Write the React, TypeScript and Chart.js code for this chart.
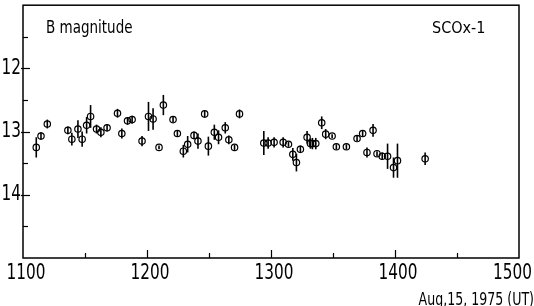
import React, { useEffect, useRef } from "react";
import { Chart, registerables } from "chart.js";

Chart.register(...registerables);

// Observation times (UT, hhmm on Aug 15 1975) and B magnitudes with errors
const times = [
  1110.7, 1114.5, 1119.6, 1136.2, 1139.4, 1144.3, 1147.7, 1151.3, 1154.5, 1159.3,
  1162.8, 1167.8, 1176.2, 1179.7, 1184.3, 1188.0, 1196.0, 1201.2, 1204.9, 1209.7,
  1213.2, 1221.0, 1224.5, 1229.3, 1232.8, 1237.9, 1241.1, 1246.5, 1249.5, 1254.3,
  1257.7, 1263.1, 1266.0, 1270.6, 1274.6, 1294.2, 1297.7, 1302.5, 1309.8, 1314.1,
  1317.6, 1320.5, 1323.7, 1329.1, 1331.8, 1333.4, 1336.1, 1340.9, 1344.1, 1349.3,
  1352.7, 1360.8, 1369.4, 1373.9, 1377.4, 1382.3, 1385.5, 1389.7, 1394.0, 1398.8,
  1402.0, 1424.3,
];
const mags = [
  13.25, 13.07, 12.88, 12.98, 13.12, 12.96, 13.12, 12.9, 12.76, 12.96,
  13.01, 12.94, 12.71, 13.03, 12.83, 12.81, 13.15, 12.76, 12.8, 13.25,
  12.58, 12.81, 13.03, 13.31, 13.2, 13.06, 13.15, 12.72, 13.23, 13.01,
  13.09, 12.94, 13.13, 13.25, 12.72, 13.18, 13.18, 13.17, 13.17, 13.2,
  13.36, 13.49, 13.28, 13.09, 13.19, 13.19, 13.19, 12.86, 13.04, 13.07,
  13.24, 13.24, 13.11, 13.03, 13.33, 12.98, 13.35, 13.39, 13.39, 13.57,
  13.46, 13.43,
];
const errs = [
  0.16, 0.06, 0.07, 0.06, 0.1, 0.14, 0.12, 0.13, 0.18, 0.07,
  0.08, 0.06, 0.07, 0.08, 0.06, 0.06, 0.08, 0.23, 0.17, 0.03,
  0.16, 0.04, 0.04, 0.1, 0.13, 0.06, 0.12, 0.06, 0.15, 0.12,
  0.11, 0.09, 0.07, 0.04, 0.07, 0.19, 0.09, 0.08, 0.08, 0.04,
  0.1, 0.14, 0.06, 0.1, 0.08, 0.09, 0.09, 0.1, 0.08, 0.03,
  0.04, 0.04, 0.04, 0.04, 0.08, 0.1, 0.04, 0.06, 0.2, 0.16,
  0.27, 0.1,
];

const xMin = 1100;
const xMax = 1500;
const yMin = 11;
const yMax = 15;
const xLabelValues = [1100, 1200, 1300, 1400, 1500];
const yLabelValues = [12, 13, 14];

const yTitle = "B magnitude";
const sourceName = "SCOx-1";
const xTitle = "Aug,15, 1975 (UT)";

const FONT = "'Liberation Sans Narrow', 'DejaVu Sans Condensed', 'Liberation Sans', sans-serif";

function tallText(
  ctx: CanvasRenderingContext2D,
  text: string,
  x: number,
  y: number,
  size: number,
  stretch: number,
  align: CanvasTextAlign,
  baseline: CanvasTextBaseline
) {
  ctx.save();
  ctx.translate(x, y);
  ctx.scale(1, stretch);
  ctx.font = `${size}px ${FONT}`;
  ctx.textAlign = align;
  ctx.textBaseline = baseline;
  ctx.fillText(text, 0, 0);
  ctx.restore();
}

export default function App() {
  const ref = useRef<HTMLCanvasElement>(null);

  useEffect(() => {
    document.body.style.margin = "0";
    const canvas = ref.current;
    if (!canvas) return;

    const deco = {
      id: "deco",
      beforeDatasetsDraw(chart: any) {
        const { ctx, scales } = chart;
        const x = scales.x;
        const y = scales.y;
        ctx.save();
        ctx.strokeStyle = "#000";
        ctx.lineWidth = 1.6;
        times.forEach((t, i) => {
          const px = x.getPixelForValue(t);
          ctx.beginPath();
          ctx.moveTo(px, y.getPixelForValue(mags[i] - errs[i]));
          ctx.lineTo(px, y.getPixelForValue(mags[i] + errs[i]));
          ctx.stroke();
        });
        ctx.restore();
      },
      afterDraw(chart: any) {
        const { ctx, chartArea: a, scales } = chart;
        const x = scales.x;
        const y = scales.y;
        ctx.save();
        ctx.strokeStyle = "#000";
        ctx.lineWidth = 1.5;
        ctx.strokeRect(a.left, a.top, a.right - a.left, a.bottom - a.top);
        ctx.lineWidth = 1.2;
        for (let v = yMin + 0.5; v < yMax; v += 0.5) {
          const py = Math.round(y.getPixelForValue(v)) + 0.5;
          const major = Math.abs(v - Math.round(v)) < 1e-6;
          ctx.beginPath();
          ctx.moveTo(a.left - (major ? 2 : 0), py);
          ctx.lineTo(a.left + (major ? 7 : 5), py);
          ctx.stroke();
        }
        for (let v = xMin + 50; v < xMax; v += 50) {
          const px = Math.round(x.getPixelForValue(v)) + 0.5;
          const major = v % 100 === 0;
          ctx.beginPath();
          ctx.moveTo(px, a.bottom);
          ctx.lineTo(px, a.bottom - (major ? 8 : 5));
          ctx.stroke();
        }
        ctx.fillStyle = "#000";
        yLabelValues.forEach((v) => {
          tallText(ctx, String(v), a.left - 2, y.getPixelForValue(v), 17, 1.25, "right", "middle");
        });
        xLabelValues.forEach((v) => {
          const px = x.getPixelForValue(v);
          if (v === xMax) {
            tallText(ctx, String(v), 532, a.bottom + 5, 17, 1.25, "right", "top");
          } else {
            tallText(ctx, String(v), px + 3, a.bottom + 5, 17, 1.25, "center", "top");
          }
        });
        tallText(ctx, yTitle, 46, 33, 15, 1.2, "left", "alphabetic");
        tallText(ctx, sourceName, 432, 33, 16, 1.0, "left", "alphabetic");
        tallText(ctx, xTitle, 534, 305, 14, 1.2, "right", "alphabetic");
        ctx.restore();
      },
    };

    const chart = new Chart(canvas, {
      type: "scatter",
      data: {
        datasets: [
          {
            data: times.map((t, i) => ({ x: t, y: mags[i] })),
            pointStyle: "circle",
            pointRadius: 3.2,
            pointBorderWidth: 1.2,
            pointBorderColor: "#000",
            pointBackgroundColor: "rgba(0,0,0,0)",
            showLine: false,
          },
        ],
      },
      options: {
        responsive: false,
        devicePixelRatio: 1,
        animation: false,
        layout: { padding: { top: 5, right: 15, left: 0, bottom: 0 } },
        plugins: { legend: { display: false }, tooltip: { enabled: false } },
        scales: {
          x: {
            type: "linear",
            min: xMin,
            max: xMax,
            grid: { display: false, drawTicks: false },
            border: { display: false },
            ticks: { display: false, stepSize: 100 },
            afterFit: (s: any) => {
              s.height = 48;
            },
          },
          y: {
            type: "linear",
            reverse: true,
            min: yMin,
            max: yMax,
            grid: { display: false, drawTicks: false },
            border: { display: false },
            ticks: { display: false, stepSize: 0.5 },
            afterFit: (s: any) => {
              s.width = 23;
            },
          },
        },
      },
      plugins: [deco],
    });

    return () => chart.destroy();
  }, []);

  return (
    <canvas
      ref={ref}
      width={534}
      height={306}
      style={{ display: "block", width: 534, height: 306 }}
    />
  );
}
